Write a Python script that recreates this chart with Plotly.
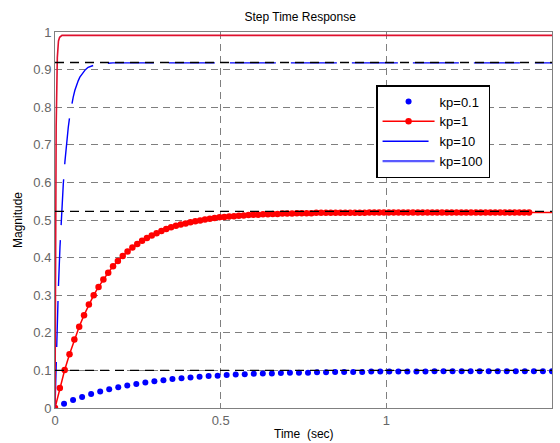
import numpy as np
import plotly.graph_objects as go

# ---- data -------------------------------------------------------------
# kp = 0.1 (sampled response, blue dots)
t_kp01_step = 0.02727
y_kp01 = [0.000, 0.011, 0.021, 0.029, 0.037, 0.044, 0.050, 0.055, 0.060, 0.064,
          0.068, 0.071, 0.074, 0.077, 0.079, 0.081, 0.083, 0.085, 0.086, 0.088,
          0.089, 0.090, 0.091, 0.092, 0.092, 0.093, 0.094, 0.094, 0.094, 0.095,
          0.095, 0.096, 0.096, 0.096, 0.096, 0.097, 0.097, 0.097, 0.097, 0.097,
          0.097, 0.097, 0.098, 0.098, 0.098, 0.098, 0.098, 0.098, 0.098, 0.098,
          0.098, 0.098, 0.098, 0.098, 0.098, 0.098]

# kp = 1 (sampled response, red dots + line)
t_kp1_step = 0.0146
y_kp1 = [0.000, 0.053, 0.101, 0.143, 0.182, 0.216, 0.247, 0.275, 0.300, 0.322,
         0.342, 0.360, 0.377, 0.391, 0.404, 0.416, 0.427, 0.436, 0.445, 0.452,
         0.459, 0.465, 0.471, 0.476, 0.481, 0.485, 0.488, 0.491, 0.494, 0.497,
         0.499, 0.501, 0.503, 0.505, 0.507, 0.508, 0.509, 0.510, 0.511, 0.512,
         0.513, 0.514, 0.514, 0.515, 0.515, 0.516, 0.516, 0.517, 0.517, 0.517,
         0.518, 0.518, 0.518, 0.518, 0.519, 0.519, 0.519, 0.519, 0.519, 0.519,
         0.519, 0.519, 0.519, 0.519, 0.519, 0.520, 0.520, 0.520, 0.520, 0.520,
         0.520, 0.520, 0.520, 0.520, 0.520, 0.520, 0.520, 0.520, 0.520, 0.520,
         0.520, 0.520, 0.520, 0.520, 0.520, 0.520, 0.520, 0.520, 0.520, 0.520,
         0.520, 0.520, 0.520, 0.520, 0.520, 0.520, 0.520, 0.520, 0.520]
kp1_final = 0.520

# kp = 10 (blue line)
t_kp10 = [0.000, 0.005, 0.010, 0.015, 0.020, 0.025, 0.030, 0.035, 0.040, 0.045,
          0.050, 0.055, 0.060, 0.065, 0.070, 0.075, 0.080, 0.085, 0.090, 0.095,
          0.100, 0.125, 0.150, 0.175, 0.200, 1.500]
y_kp10 = [0.000, 0.173, 0.314, 0.428, 0.520, 0.595, 0.656, 0.706, 0.746, 0.779,
          0.806, 0.827, 0.845, 0.859, 0.870, 0.880, 0.887, 0.893, 0.898, 0.902,
          0.906, 0.914, 0.917, 0.918, 0.918, 0.918]

# kp = 100 (fast response)
t_kp100 = [0.000, 0.0035, 0.0070, 0.0105, 0.0140, 0.0175, 0.0210, 1.500]
y_kp100 = [0.000, 0.748, 0.932, 0.976, 0.986, 0.990, 0.991, 0.991]

# steady-state reference levels (black dashed)
final_levels = [0.100, 0.523, 0.919]

x_ticks = [0, 0.5, 1, 1.5]
x_tick_text = ["0", "0.5", "1", "1.5"]
y_ticks = [0, 0.1, 0.2, 0.3, 0.4, 0.5, 0.6, 0.7, 0.8, 0.9, 1]
y_tick_text = ["0", "0.1", "0.2", "0.3", "0.4", "0.5", "0.6", "0.7", "0.8", "0.9", "1"]

t_end = 1.5

# ---- figure -----------------------------------------------------------
FONT = "Liberation Sans, Arial, Helvetica, sans-serif"
t_kp01 = np.arange(len(y_kp01)) * t_kp01_step
t_kp1 = np.arange(len(y_kp1)) * t_kp1_step

fig = go.Figure()

fig.add_trace(go.Scatter(
    x=t_kp01, y=y_kp01, mode="markers", name="kp=0.1",
    marker=dict(color="#0000ff", size=6, line=dict(width=0)),
))
fig.add_trace(go.Scatter(
    x=t_kp1, y=y_kp1, mode="lines+markers", name="kp=1",
    line=dict(color="#ff0000", width=1.5),
    marker=dict(color="#ff0000", size=6.5, line=dict(width=0)),
))
# the kp=1 curve holds its final value to the end of the time axis
fig.add_trace(go.Scatter(
    x=[t_kp1[-1], t_end], y=[y_kp1[-1], kp1_final], mode="lines",
    line=dict(color="#ff0000", width=1.5), showlegend=False, hoverinfo="skip",
))
fig.add_trace(go.Scatter(
    x=t_kp10, y=y_kp10, mode="lines", name="kp=10",
    line=dict(color="#0000ff", width=1.4, dash="46px,15px"),
))
fig.add_trace(go.Scatter(
    x=t_kp100, y=y_kp100, mode="lines", name="kp=100",
    line=dict(color="#e0102e", width=1.6), showlegend=False,
))
# legend key for kp=100
fig.add_trace(go.Scatter(
    x=[None], y=[None], mode="lines", name="kp=100",
    line=dict(color="#5a5aff", width=2.2),
))

for lvl in final_levels:
    fig.add_trace(go.Scatter(
        x=[0, t_end], y=[lvl, lvl], mode="lines", showlegend=False,
        line=dict(color="#000000", width=1.4, dash="9px,6px"), hoverinfo="skip",
    ))

axis_common = dict(
    showline=True, linecolor="#808080", linewidth=1, mirror="ticks",
    ticks="inside", ticklen=5, tickcolor="#808080",
    showgrid=True, gridcolor="#7f7f7f", gridwidth=1, griddash="7px,5px",
    zeroline=False, tickfont=dict(family=FONT, size=13, color="#666666"),
    layer="below traces", automargin=False,
)

fig.update_layout(
    width=560, height=443,
    margin=dict(l=55, r=8, t=32, b=35),
    paper_bgcolor="white", plot_bgcolor="white",
    font=dict(family=FONT, color="#000000"),
    title=dict(text="Step Time Response", x=0.536, xanchor="center",
               y=0.963, yanchor="middle", yref="container",
               font=dict(family=FONT, size=12, color="#000000")),
    xaxis=dict(range=[0, t_end], tickvals=x_ticks, ticktext=x_tick_text,
               **axis_common),
    yaxis=dict(range=[0, 1], tickvals=y_ticks, ticktext=y_tick_text,
               title=dict(text="Magnitude", standoff=8,
                          font=dict(family=FONT, size=12, color="#000000")),
               **axis_common),
    legend=dict(x=0.646, y=0.859, xanchor="left", yanchor="top",
                bgcolor="white", bordercolor="#000000", borderwidth=1.5,
                font=dict(family=FONT, size=13, color="#000000"),
                tracegroupgap=0, itemwidth=52),
    showlegend=True,
)

# time-axis label placed at the very bottom of the page
fig.add_annotation(
    text="Time  (sec)", xref="paper", yref="paper", x=0.5, y=-0.091,
    xanchor="center", yanchor="bottom", showarrow=False, borderpad=0,
    font=dict(family=FONT, size=12, color="#000000"),
)

fig.write_html("out.html")
